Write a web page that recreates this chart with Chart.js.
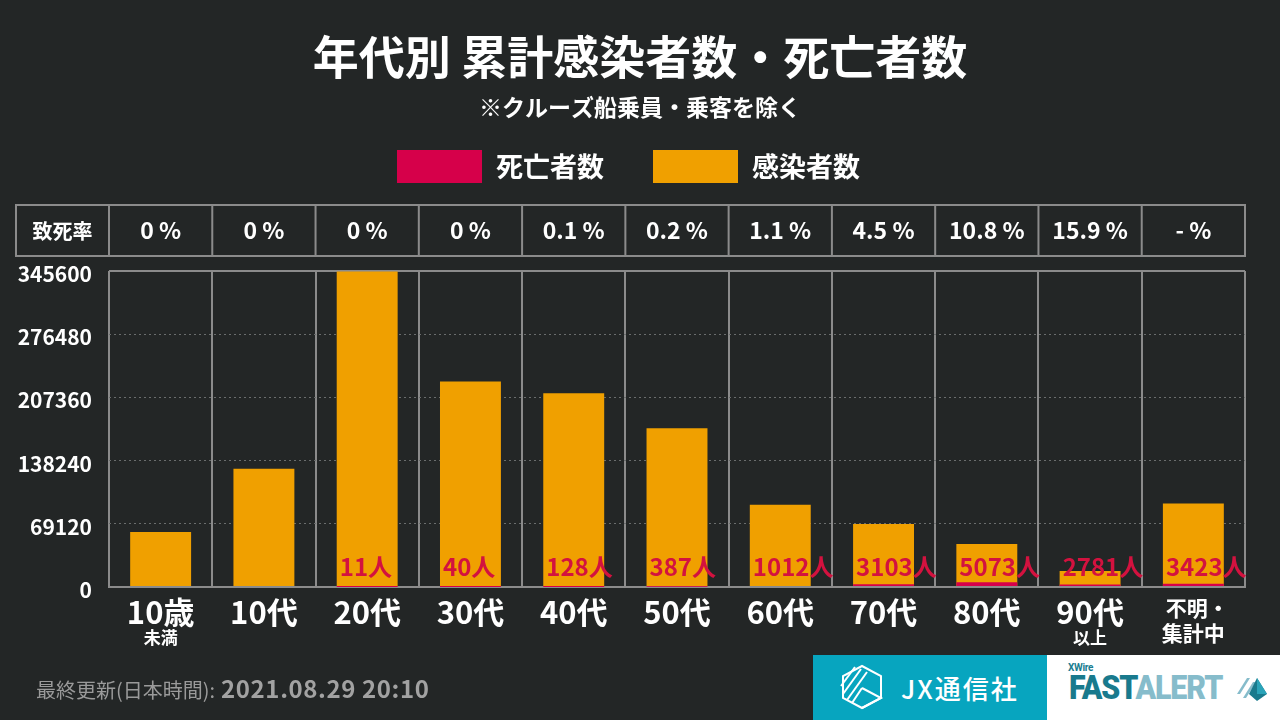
<!DOCTYPE html>
<html lang="ja">
<head>
<meta charset="utf-8">
<title>年代別 累計感染者数・死亡者数</title>
<script src="https://cdn.jsdelivr.net/npm/chart.js@4.4.1/dist/chart.umd.min.js"></script>
<style>
  html, body { margin: 0; padding: 0; background: #232626; }
  #wrap { position: relative; width: 1280px; height: 720px; overflow: hidden; background: #232626; }
  #chart { position: absolute; left: 0; top: 0; }
  .updated { position: absolute; left: 36px; top: 670px; height: 36px; display: flex; align-items: baseline;
    font-family: 'Noto Sans CJK JP', sans-serif; color: #9a9a9a; }
  .updated .lbl { font-size: 20px; }
  .updated .date { font-size: 24px; font-weight: bold; color: #a2a2a2; letter-spacing: 0.6px; margin-left: 6px; }
  .jx { position: absolute; left: 813px; top: 655px; width: 234px; height: 65px; background: #07a5bf; }
  .jx svg { position: absolute; left: 26px; top: 9px; }
  .jx span { position: absolute; left: 88px; top: 14px; font-family: 'Noto Sans CJK JP', sans-serif;
    font-size: 26px; font-weight: 500; color: #fff; letter-spacing: 2px; }
  .fa { position: absolute; left: 1047px; top: 655px; width: 233px; height: 65px; background: #fff; }
  .fa .xw { position: absolute; left: 21px; top: 7px; font-family: Roboto, sans-serif; font-size: 10px;
    font-weight: bold; color: #1a7d90; letter-spacing: -0.3px; }
  .fa .word { position: absolute; left: 22px; top: 13px; font-family: Roboto, sans-serif; font-size: 33px;
    font-weight: 900; letter-spacing: -1.2px; transform: scaleX(0.92); transform-origin: left top; }
  .fa .fast { color: #197a8d; }
  .fa .alert { color: #86bccb; }
  .fa svg { position: absolute; left: 188px; top: 19px; }
</style>
</head>
<body>
<div id="wrap">
  <canvas id="chart" width="1280" height="720"></canvas>
  <div class="updated"><span class="lbl">最終更新(日本時間):</span><span class="date">2021.08.29 20:10</span></div>
  <div class="jx">
    <svg width="46" height="46" viewBox="0 0 46 46" fill="none" stroke="#fff" stroke-width="2">
      <polygon points="23,2 42,12 42,34 23,44 4,34 4,12"/>
      <line x1="2" y1="22" x2="16" y2="3"/>
      <line x1="4" y1="30" x2="22" y2="5"/>
      <line x1="8" y1="36" x2="28" y2="8"/>
      <line x1="13" y1="39" x2="23" y2="24"/>
      <polyline points="23,24 42,34 23,44"/>
    </svg>
    <span>JX通信社</span>
  </div>
  <div class="fa">
    <div class="xw">XWire</div>
    <div class="word"><span class="fast">FAST</span><span class="alert">ALERT</span></div>
    <svg width="34" height="28" viewBox="0 0 34 28">
      <polygon points="2,20 12,4 15,4 5,20" fill="#86bccb"/>
      <polygon points="8,24 18,8 21,8 11,24" fill="#86bccb"/>
      <polygon points="22,4 32,20 22,27 14,20" fill="#197a8d"/>
      <polygon points="22,4 32,20 22,20" fill="#2aa3b8"/>
    </svg>
  </div>
</div>
<script>
// データ
const categoryLabels = [['10歳', '未満'], ['10代'], ['20代'], ['30代'], ['40代'], ['50代'],
  ['60代'], ['70代'], ['80代'], ['90代', '以上'], ['不明・', '集計中']];
const infected = [60000, 129200, 345000, 224800, 211700, 173500, 89900, 68800, 47000, 17500, 91300];
const deaths = [0, 0, 11, 40, 128, 387, 1012, 3103, 5073, 2781, 3423];
const fatalityRates = ['0 %', '0 %', '0 %', '0 %', '0.1 %', '0.2 %', '1.1 %', '4.5 %', '10.8 %', '15.9 %', '- %'];
const yTicks = [0, 69120, 138240, 207360, 276480, 345600];

const FONT = "'Noto Sans CJK JP', 'Noto Sans', sans-serif";
const CRIMSON = '#d6004a';
const ORANGE = '#f0a000';
const LINE = '#8b8b8b';

// ===== 表・凡例・ラベル描画 =====
const overlayPlugin = {
  id: 'overlay',
  afterDraw(chart) {
    const { ctx, chartArea, scales } = chart;
    const xs = scales.x, ys = scales.y;
    const n = chart.data.labels.length;
    const step = (chartArea.right - chartArea.left) / n;
    ctx.save();

    // 凡例
    let lx = 397;
    ctx.font = `bold 27px ${FONT}`;
    ctx.textBaseline = 'middle';
    ctx.textAlign = 'left';
    chart.data.datasets.forEach(ds => {
      ctx.fillStyle = ds.backgroundColor;
      ctx.fillRect(lx, 150, 85, 33);
      ctx.fillStyle = '#fff';
      ctx.fillText(ds.label, lx + 99, 167);
      lx += 99 + ctx.measureText(ds.label).width + 49;
    });

    // 致死率の表
    const top = 205, bottom = 256, left = 16;
    ctx.strokeStyle = LINE;
    ctx.lineWidth = 2;
    ctx.strokeRect(left, top, chartArea.right - left, bottom - top);
    ctx.beginPath();
    for (let i = 0; i < n; i++) {
      const bx = chartArea.left + i * step;
      ctx.moveTo(bx, top);
      ctx.lineTo(bx, bottom);
    }
    ctx.stroke();
    ctx.fillStyle = '#fff';
    ctx.font = `bold 20px ${FONT}`;
    ctx.textAlign = 'center';
    ctx.fillText('致死率', (left + chartArea.left) / 2, 231);

    // 年代ラベル
    const zero = ys.getPixelForValue(0);
    categoryLabels.forEach((lines, i) => {
      const cx = xs.getPixelForTick(i);
      ctx.fillStyle = '#fff';
      ctx.textAlign = 'center';
      if (/\d/.test(lines[0])) {
        ctx.font = `bold 31px ${FONT}`;
        ctx.fillText(lines[0], cx, zero + 25);
        if (lines[1]) {
          ctx.font = `bold 17px ${FONT}`;
          ctx.fillText(lines[1], cx, zero + 51);
        }
      } else {
        ctx.font = `bold 21px ${FONT}`;
        ctx.fillText(lines[0], cx + 4, zero + 21);
        ctx.fillText(lines[1], cx, zero + 46);
      }
    });

    // 死亡者数ラベル
    const meta = chart.getDatasetMeta(0);
    ctx.font = `bold 24px ${FONT}`;
    ctx.fillStyle = '#d3123f';
    ctx.textAlign = 'left';
    ctx.textBaseline = 'alphabetic';
    meta.data.forEach((bar, i) => {
      if (!deaths[i]) return;
      const { x, width } = bar.getProps(['x', 'width'], true);
      ctx.fillText(deaths[i] + '人', x - width / 2 + 3, zero - 11);
    });

    ctx.restore();
  }
};

const isEdge = c => c.index === 0 || c.index === yTicks.length - 1;

new Chart(document.getElementById('chart'), {
  type: 'bar',
  data: {
    labels: categoryLabels,
    datasets: [
      {
        label: '死亡者数',
        data: deaths,
        backgroundColor: CRIMSON,
        grouped: false,
        categoryPercentage: 1,
        barPercentage: 0.59,
        minBarLength: c => (c.raw > 0 ? 2 : 0)
      },
      {
        label: '感染者数',
        data: infected,
        backgroundColor: ORANGE,
        grouped: false,
        categoryPercentage: 1,
        barPercentage: 0.59
      }
    ]
  },
  options: {
    responsive: false,
    animation: false,
    devicePixelRatio: 1,
    layout: { padding: 0 },
    plugins: {
      legend: { display: false },
      tooltip: { enabled: false },
      title: {
        display: true,
        text: '年代別 累計感染者数・死亡者数',
        color: '#fff',
        font: { family: FONT, size: 46, weight: 'bold' },
        padding: { top: 28.5, bottom: 0 }
      },
      subtitle: {
        display: true,
        text: '※クルーズ船乗員・乗客を除く',
        color: '#fff',
        font: { family: FONT, size: 23, weight: 'bold' },
        padding: { top: 10.2, bottom: 0 }
      }
    },
    scales: {
      x: {
        grid: { color: LINE, lineWidth: 2, drawTicks: false, offset: true },
        border: { color: LINE, width: 2 },
        ticks: { display: false },
        afterFit(s) { s.height = 133; }
      },
      rate: {
        type: 'category',
        position: 'top',
        labels: fatalityRates,
        offset: true,
        grid: { display: false, drawTicks: false },
        border: { display: false },
        ticks: {
          color: '#fff',
          font: { family: FONT, size: 23, weight: 'bold' },
          padding: 27,
          maxRotation: 0,
          autoSkip: false
        },
        afterFit(s) { s.height = 149.4; }
      },
      y: {
        min: 0,
        max: yTicks[yTicks.length - 1],
        afterBuildTicks(s) { s.ticks = yTicks.map(v => ({ value: v })); },
        grid: {
          color: c => (isEdge(c) ? LINE : '#6a6d6d'),
          lineWidth: c => (isEdge(c) ? 2 : 1),
          drawTicks: false
        },
        border: { display: false, dash: c => (isEdge(c) ? [] : [2, 3]) },
        ticks: {
          color: '#fff',
          font: { family: FONT, size: 21, weight: 'bold' },
          padding: 17,
          labelOffset: 3,
          callback: v => String(v)
        },
        afterFit(s) { s.width = 109; }
      },
      // 右側の余白用（何も描かない）
      spacer: {
        type: 'linear',
        position: 'right',
        grid: { display: false, drawTicks: false },
        border: { display: false },
        ticks: { display: false },
        afterFit(s) { s.width = 35; }
      }
    }
  },
  plugins: [overlayPlugin]
});
</script>
</body>
</html>
